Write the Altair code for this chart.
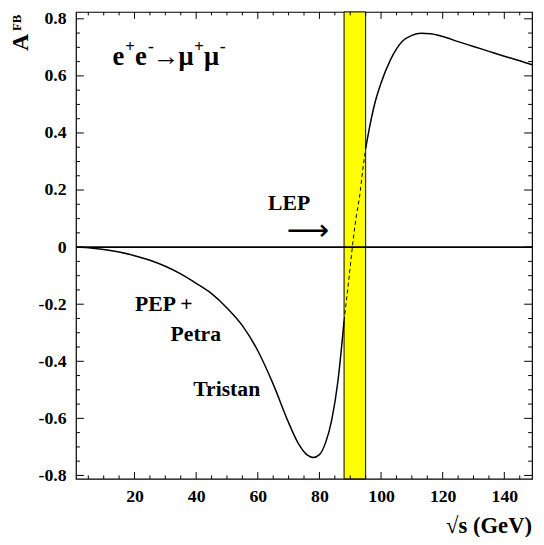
import altair as alt
import pandas as pd

# ---- data ----
sqrt_s = [1, 5, 10, 15, 20, 25, 30, 35, 40, 45, 50, 55, 60, 65, 70, 73, 76, 78,
          80, 82, 84, 86, 88, 89, 90, 91, 92, 93, 94, 95, 96, 98, 100, 103, 107,
          110, 113, 116, 120, 125, 130, 135, 140, 145, 149]
afb = [0.000, -0.002, -0.008, -0.017, -0.030, -0.046, -0.067, -0.094, -0.127,
       -0.163, -0.213, -0.275, -0.363, -0.480, -0.615, -0.685, -0.728, -0.737,
       -0.727, -0.685, -0.605, -0.470, -0.258, -0.165, -0.068, 0.030, 0.110,
       0.175, 0.265, 0.345, 0.405, 0.505, 0.575, 0.655, 0.722, 0.742, 0.749,
       0.748, 0.738, 0.720, 0.703, 0.686, 0.669, 0.653, 0.639]
lep_band = [88.0, 95.0]
x_domain = [1, 149]
y_domain = [-0.812, 0.824]
x_major = [20, 40, 60, 80, 100, 120, 140]
x_minor = [5, 10, 15, 25, 30, 35, 45, 50, 55, 65, 70, 75, 85, 90, 95, 105, 110,
           115, 125, 130, 135, 145]
y_major = [-0.8, -0.6, -0.4, -0.2, 0, 0.2, 0.4, 0.6, 0.8]
y_minor = [-0.75, -0.7, -0.65, -0.55, -0.5, -0.45, -0.35, -0.3, -0.25, -0.15,
           -0.1, -0.05, 0.05, 0.1, 0.15, 0.25, 0.3, 0.35, 0.45, 0.5, 0.55,
           0.65, 0.7, 0.75]

W, H = 463, 474
FONT = "Liberation Serif"

rows = []
for s, a in zip(sqrt_s, afb):
    if s <= lep_band[0]:
        rows.append({"s": s, "a": a, "seg": "left"})
    if lep_band[0] <= s <= lep_band[1]:
        rows.append({"s": s, "a": a, "seg": "lep"})
    if s >= lep_band[1]:
        rows.append({"s": s, "a": a, "seg": "right"})
curve = pd.DataFrame(rows)

xs = alt.Scale(domain=x_domain, nice=False, zero=False)
ys = alt.Scale(domain=y_domain, nice=False, zero=False)

lab = dict(labelFont=FONT, labelFontWeight="bold", labelFontSize=18,
           labelColor="black", ticks=False, domain=False, grid=False, title=None,
           labelExpr="'' + datum.value")

band = alt.Chart(pd.DataFrame({"lo": [lep_band[0]], "hi": [lep_band[1]]})).mark_rect(
    color="#FFFF00", stroke="black", strokeWidth=1
).encode(
    x=alt.X("lo:Q", scale=xs, axis=None), x2="hi:Q",
    y=alt.value(0), y2=alt.value(H)
)

zero = alt.Chart(pd.DataFrame({"z": [0]})).mark_rule(color="black", strokeWidth=1.6).encode(
    y=alt.Y("z:Q", scale=ys, axis=None)
)

solid = alt.Chart(curve).transform_filter(alt.datum.seg != "lep").mark_line(
    color="black", strokeWidth=1.5, interpolate="monotone"
).encode(
    x=alt.X("s:Q", scale=xs, axis=alt.Axis(orient="bottom", values=x_major,
                                             labelPadding=9, **lab)),
    y=alt.Y("a:Q", scale=ys, axis=alt.Axis(orient="left", values=y_major,
                                             labelPadding=10, **lab)),
    detail="seg:N",
)

dashed = alt.Chart(curve).transform_filter(alt.datum.seg == "lep").mark_line(
    color="black", strokeWidth=1, strokeDash=[4, 3], interpolate="monotone"
).encode(
    x=alt.X("s:Q", scale=xs, axis=None),
    y=alt.Y("a:Q", scale=ys, axis=None),
)


def xticks(values, length):
    d = alt.Chart(pd.DataFrame({"v": values}))
    bottom = d.mark_rule(color="black", strokeWidth=1).encode(
        x=alt.X("v:Q", scale=xs, axis=None), y=alt.value(H), y2=alt.value(H - length))
    top = d.mark_rule(color="black", strokeWidth=1).encode(
        x=alt.X("v:Q", scale=xs, axis=None), y=alt.value(0), y2=alt.value(length))
    return [bottom, top]


def yticks(values, length):
    d = alt.Chart(pd.DataFrame({"v": values}))
    left = d.mark_rule(color="black", strokeWidth=1).encode(
        y=alt.Y("v:Q", scale=ys, axis=None), x=alt.value(0), x2=alt.value(length))
    right = d.mark_rule(color="black", strokeWidth=1).encode(
        y=alt.Y("v:Q", scale=ys, axis=None), x=alt.value(W), x2=alt.value(W - length))
    return [left, right]


ticks = xticks(x_major, 7) + xticks(x_minor, 3.5) + yticks(y_major, 8) + yticks(y_minor, 4)


def txt(label, x, y, size, align="left", angle=0, font=FONT, weight="bold",
        baseline="middle"):
    return alt.Chart(pd.DataFrame({"t": [label]})).mark_text(
        font=font, fontWeight=weight, fontSize=size, align=align,
        baseline=baseline, angle=angle, color="black"
    ).encode(text="t:N", x=alt.value(x), y=alt.value(y))


# reaction label e+e- -> mu+mu-, built from base glyphs and raised charges
reaction = [
    txt("e", 37, 54, 27, baseline="alphabetic"),
    txt("+", 50, 41, 17, baseline="alphabetic"),
    txt("e", 60, 54, 27, baseline="alphabetic"),
    txt("-", 73, 41, 18, baseline="alphabetic"),
    txt("\u2192", 78, 54, 27, baseline="alphabetic"),
    txt("\u03bc", 104, 54, 27, baseline="alphabetic"),
    txt("+", 120, 41, 17, baseline="alphabetic"),
    txt("\u03bc", 130, 54, 27, baseline="alphabetic"),
    txt("-", 146, 41, 18, baseline="alphabetic"),
]

texts = reaction + [
    txt("LEP", 195, 194, 22),
    txt("\u27f6", 214, 222, 30, font="DejaVu Sans", weight="normal"),
    txt("PEP +", 60, 297, 22),
    txt("Petra", 96, 327, 22),
    txt("Tristan", 119, 383, 22),
    txt("\u221as (GeV)", W, 522, 23, align="right"),
    txt("A", -56, 31, 24, align="center", angle=270),
    txt("FB", -60, 11, 13, align="center", angle=270),
]

chart = alt.layer(band, zero, *ticks, solid, dashed, *texts).resolve_axis(
    x="independent", y="independent"
).properties(
    width=W, height=H,
    padding={"left": 69, "top": 0, "right": 4, "bottom": 55},
    autosize=alt.AutoSizeParams(type="none"),
).configure_view(stroke="black", strokeWidth=1.2)

chart.save("out.html", embed_options={"renderer": "svg", "actions": False})
